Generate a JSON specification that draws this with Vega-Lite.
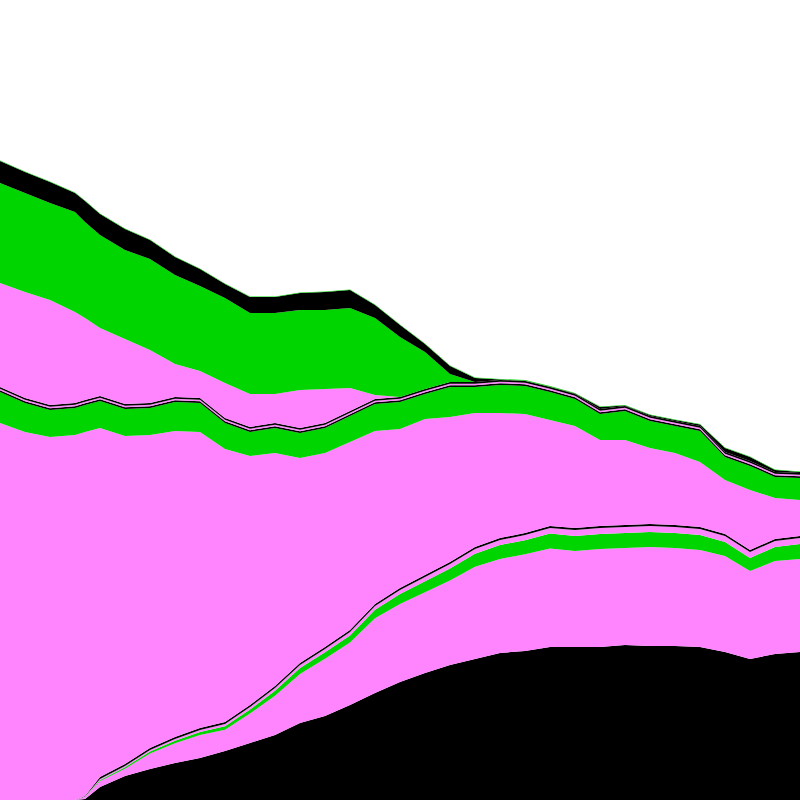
{
  "$schema": "https://vega.github.io/schema/vega-lite/v6.json",
  "autosize": {"type": "fit", "contains": "padding"},
  "width": 800,
  "height": 800,
  "padding": 0,
  "background": "white",
  "config": {"view": {"stroke": null}},
  "data": {"values": [
    {"x":0,"s01":0,"s02":0,"s03":0,"s04":0,"s05":0,"s06":377,"s07":31.1,"s08":1.7,"s09":1.5,"s10":1.7,"s11":104,"s12":100,"s13":22,"s14":0.6},
    {"x":25,"s01":0,"s02":0,"s03":0,"s04":0,"s05":0,"s06":368,"s07":29.1,"s08":1.7,"s09":1.5,"s10":1.7,"s11":106,"s12":99,"s13":21,"s14":0.6},
    {"x":50,"s01":0,"s02":0,"s03":0,"s04":0,"s05":0,"s06":363,"s07":27.1,"s08":1.7,"s09":1.5,"s10":1.7,"s11":105,"s12":97,"s13":21,"s14":0.6},
    {"x":75,"s01":0,"s02":0,"s03":0,"s04":0,"s05":0,"s06":365,"s07":27.1,"s08":1.7,"s09":1.5,"s10":1.7,"s11":91,"s12":100,"s13":19,"s14":0.6},
    {"x":85,"s01":1,"s02":1.9,"s03":0.3,"s04":0.3,"s05":0.5,"s06":364,"s07":27.1,"s08":1.7,"s09":1.5,"s10":1.7,"s11":82,"s12":96,"s13":21,"s14":0.6},
    {"x":100,"s01":13,"s02":6,"s03":1,"s04":1,"s05":2,"s06":349,"s07":27.1,"s08":1.7,"s09":1.5,"s10":1.7,"s11":68,"s12":93,"s13":21,"s14":0.6},
    {"x":125,"s01":24,"s02":7.3,"s03":1.5,"s04":1.2,"s05":2,"s06":328,"s07":27.1,"s08":1.7,"s09":1.5,"s10":1.7,"s11":65,"s12":89,"s13":21,"s14":0.6},
    {"x":150,"s01":31,"s02":15.5,"s03":2,"s04":1.5,"s05":2,"s06":313,"s07":27.1,"s08":1.7,"s09":1.5,"s10":1.7,"s11":53,"s12":91,"s13":19,"s14":0.6},
    {"x":175,"s01":37,"s02":19.7,"s03":2.5,"s04":1.8,"s05":2,"s06":306,"s07":29.1,"s08":1.7,"s09":1.5,"s10":1.7,"s11":33,"s12":89,"s13":18,"s14":0.6},
    {"x":200,"s01":42,"s02":23,"s03":3,"s04":2,"s05":2,"s06":296,"s07":29.1,"s08":1.7,"s09":1.5,"s10":1.7,"s11":27,"s12":85,"s13":17,"s14":0.6},
    {"x":225,"s01":49,"s02":21.3,"s03":3.5,"s04":2.2,"s05":2,"s06":273,"s07":26.1,"s08":1.7,"s09":1.5,"s10":1.7,"s11":35,"s12":85,"s13":14,"s14":0.6},
    {"x":250,"s01":57,"s02":29.5,"s03":4,"s04":2.5,"s05":2,"s06":249,"s07":24.1,"s08":1.7,"s09":1.5,"s10":1.7,"s11":33,"s12":81,"s13":16,"s14":0.6},
    {"x":275,"s01":65,"s02":39.3,"s03":5,"s04":2.7,"s05":2,"s06":233,"s07":25.1,"s08":1.7,"s09":1.5,"s10":1.7,"s11":29,"s12":81,"s13":16,"s14":0.6},
    {"x":300,"s01":77,"s02":49,"s03":6,"s04":3,"s05":2,"s06":205,"s07":25.1,"s08":1.7,"s09":1.5,"s10":1.7,"s11":38,"s12":80,"s13":17,"s14":0.6},
    {"x":325,"s01":84,"s02":57.3,"s03":6.5,"s04":3.2,"s05":2,"s06":194,"s07":25.1,"s08":1.7,"s09":1.5,"s10":1.7,"s11":34,"s12":79,"s13":18,"s14":0.6},
    {"x":350,"s01":95,"s02":62.5,"s03":7,"s04":3.5,"s05":2,"s06":188,"s07":26.1,"s08":1.7,"s09":1.5,"s10":1.7,"s11":23,"s12":80,"s13":18,"s14":0.6},
    {"x":375,"s01":107,"s02":74.8,"s03":8.5,"s04":3.7,"s05":2,"s06":173,"s07":27.1,"s08":1.7,"s09":1.5,"s10":1.7,"s11":4,"s12":77,"s13":13,"s14":0.6},
    {"x":400,"s01":118,"s02":78,"s03":10,"s04":4,"s05":2,"s06":159,"s07":27.1,"s08":1.7,"s09":1.5,"s10":1.7,"s11":0,"s12":60,"s13":12,"s14":0.6},
    {"x":425,"s01":127,"s02":80.8,"s03":11,"s04":4.2,"s05":2,"s06":156,"s07":25.1,"s08":1.7,"s09":1.5,"s10":1.7,"s11":0,"s12":37,"s13":8,"s14":0.6},
    {"x":450,"s01":135,"s02":84.5,"s03":12,"s04":4.5,"s05":2,"s06":145,"s07":30.1,"s08":1.7,"s09":1.5,"s10":1.7,"s11":0,"s12":8,"s13":8,"s14":0.6},
    {"x":475,"s01":141,"s02":92.3,"s03":13,"s04":4.7,"s05":2,"s06":134,"s07":26.1,"s08":1.7,"s09":1.5,"s10":1.7,"s11":0,"s12":0,"s13":4,"s14":0.6},
    {"x":500,"s01":147,"s02":94,"s03":14,"s04":5,"s05":2,"s06":125,"s07":28.1,"s08":1.7,"s09":1.5,"s10":1.7,"s11":0,"s12":0,"s13":0.5,"s14":0.6},
    {"x":525,"s01":149,"s02":96.8,"s03":14,"s04":5.2,"s05":2,"s06":119,"s07":28.1,"s08":1.7,"s09":1.5,"s10":1.7,"s11":0,"s12":0,"s13":0.3,"s14":0.6},
    {"x":550,"s01":153,"s02":98.5,"s03":15,"s04":5.5,"s05":2,"s06":106,"s07":28.1,"s08":1.7,"s09":1.5,"s10":1.7,"s11":0,"s12":0,"s13":0.3,"s14":0.6},
    {"x":575,"s01":153,"s02":96,"s03":15,"s04":6,"s05":2,"s06":102,"s07":27.1,"s08":1.7,"s09":1.5,"s10":1.7,"s11":0,"s12":0,"s13":0.5,"s14":0.6},
    {"x":600,"s01":153,"s02":98,"s03":15,"s04":6,"s05":2,"s06":86,"s07":26.1,"s08":1.7,"s09":1.5,"s10":1.7,"s11":0,"s12":0,"s13":2,"s14":0.6},
    {"x":625,"s01":155,"s02":97,"s03":15,"s04":6,"s05":2,"s06":85,"s07":29.1,"s08":1.7,"s09":1.5,"s10":1.7,"s11":0,"s12":0,"s13":0.5,"s14":0.6},
    {"x":650,"s01":154,"s02":99,"s03":15,"s04":6,"s05":2,"s06":76,"s07":27.1,"s08":1.7,"s09":1.5,"s10":1.7,"s11":0,"s12":0,"s13":1,"s14":0.6},
    {"x":675,"s01":154,"s02":98,"s03":15,"s04":6,"s05":2,"s06":72,"s07":27.1,"s08":1.7,"s09":1.5,"s10":1.7,"s11":0,"s12":0,"s13":1,"s14":0.6},
    {"x":700,"s01":153,"s02":97,"s03":15,"s04":6,"s05":2,"s06":65,"s07":31.1,"s08":1.7,"s09":1.5,"s10":1.7,"s11":0,"s12":0,"s13":1.5,"s14":0.6},
    {"x":725,"s01":148,"s02":96,"s03":14,"s04":6,"s05":2,"s06":54,"s07":23.1,"s08":1.7,"s09":1.5,"s10":1.7,"s11":0,"s12":0,"s13":4,"s14":0.6},
    {"x":750,"s01":141,"s02":88,"s03":13,"s04":6,"s05":2,"s06":60,"s07":24.1,"s08":1.7,"s09":1.5,"s10":1.7,"s11":0,"s12":0,"s13":4,"s14":0.6},
    {"x":775,"s01":146,"s02":93,"s03":14,"s04":6,"s05":2,"s06":41,"s07":21.1,"s08":1.7,"s09":1.5,"s10":1.7,"s11":0,"s12":0,"s13":2,"s14":0.6},
    {"x":800,"s01":148,"s02":93,"s03":15,"s04":6,"s05":2,"s06":36,"s07":22.1,"s08":1.7,"s09":1.5,"s10":1.7,"s11":0,"s12":0,"s13":1,"s14":0.6}
  ]},
  "transform": [
    {"fold": ["s01","s02","s03","s04","s05","s06","s07","s08","s09","s10","s11","s12","s13","s14"], "as": ["series","v"]}
  ],
  "mark": {"type": "area", "interpolate": "linear"},
  "encoding": {
    "x": {"field": "x", "type": "quantitative", "scale": {"domain": [0, 800], "nice": false, "zero": false}, "axis": null},
    "y": {"field": "v", "type": "quantitative", "stack": "zero", "scale": {"domain": [0, 800], "nice": false}, "axis": null},
    "color": {"field": "series", "type": "nominal", "legend": null,
      "scale": {"domain": ["s01","s02","s03","s04","s05","s06","s07","s08","s09","s10","s11","s12","s13","s14"],
                "range": ["#000000","#ff85ff","#00d500","#ff85ff","#000000","#ff85ff","#00d500","#000000","#ff85ff","#000000","#ff85ff","#00d500","#000000","#00d500"]}},
    "order": {"field": "series", "sort": "ascending"}
  }
}
